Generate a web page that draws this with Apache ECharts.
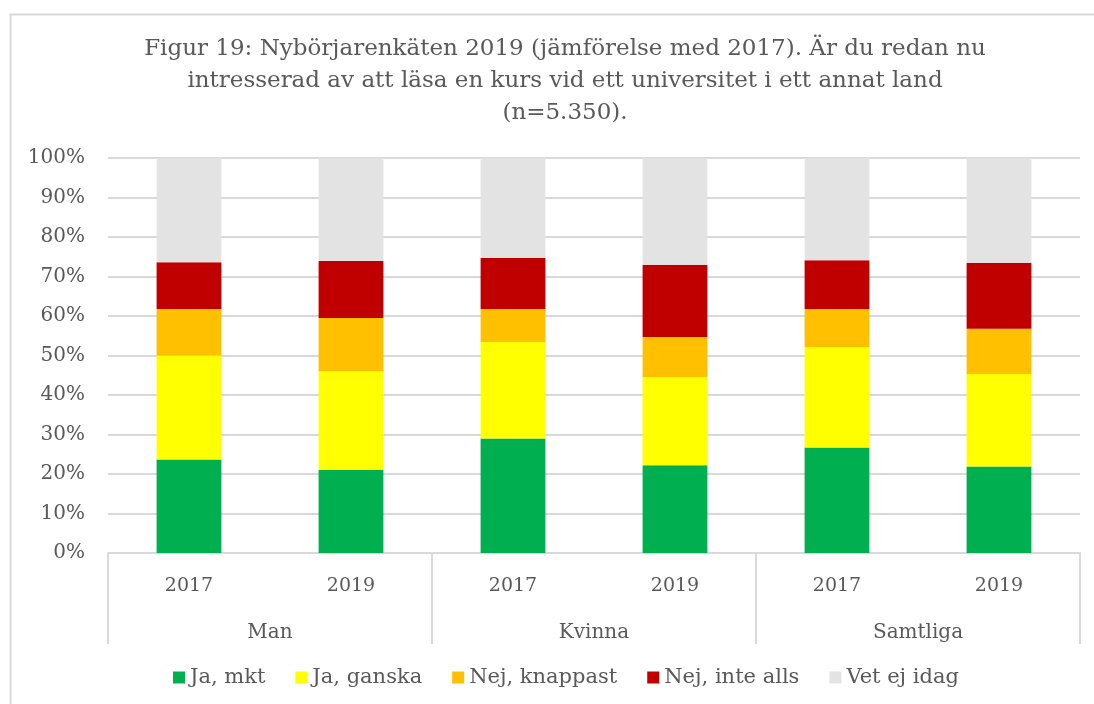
<!DOCTYPE html>
<html>
<head>
<meta charset="utf-8">
<script src="https://cdn.jsdelivr.net/npm/echarts@6/dist/echarts.min.js"></script>
<style>
  html, body { margin: 0; padding: 0; background: #fff; }
  #chart { width: 1094px; height: 704px; }
</style>
</head>
<body>
<div id="chart"></div>
<script>
  // kategorier (år inom grupp) och grupper
  const years = ['2017', '2019', '2017', '2019', '2017', '2019']
  const groups = ['Man', 'Kvinna', 'Samtliga']
  const yTicks = [0, 10, 20, 30, 40, 50, 60, 70, 80, 90, 100]

  // andelar i procent, läst ur figuren
  const jaMkt = [23.7, 21.1, 29.0, 22.2, 26.7, 21.9]
  const jaGanska = [26.3, 24.9, 24.4, 22.3, 25.4, 23.4]
  const nejKnappast = [11.8, 13.5, 8.4, 10.2, 9.7, 11.5]
  const nejInteAlls = [11.8, 14.4, 12.9, 18.3, 12.3, 16.7]
  const vetEj = [26.4, 26.1, 25.3, 27.0, 25.9, 26.5]

  const font = 'DejaVu Serif'
  const textColor = '#595959'
  const lineColor = '#d9d9d9'

  const seriesDefs = [
    {name: 'Ja, mkt', data: jaMkt, color: '#00b050'},
    {name: 'Ja, ganska', data: jaGanska, color: '#ffff00'},
    {name: 'Nej, knappast', data: nejKnappast, color: '#ffc000'},
    {name: 'Nej, inte alls', data: nejInteAlls, color: '#c00000'},
    {name: 'Vet ej idag', data: vetEj, color: '#e3e3e3'}
  ]

  const chart = echarts.init(document.getElementById('chart'))
  chart.setOption({
    backgroundColor: '#fff',
    animation: false,
    textStyle: {fontFamily: font, color: textColor},
    title: {
      text: 'Figur 19: Nybörjarenkäten 2019 (jämförelse med 2017). Är du redan nu\nintresserad av att läsa en kurs vid ett universitet i ett annat land\n(n=5.350).',
      left: 560,
      top: 28,
      textAlign: 'center',
      textStyle: {
        fontFamily: font,
        fontWeight: 'normal',
        fontSize: 23,
        lineHeight: 32,
        color: textColor
      }
    },
    graphic: [{
      type: 'rect',
      shape: {x: 10.5, y: 14.5, width: 1300, height: 800},
      style: {fill: 'none', stroke: lineColor, lineWidth: 2},
      silent: true
    }],
    legend: {
      bottom: 11,
      left: 168,
      itemWidth: 12,
      itemHeight: 12,
      itemGap: 30,
      icon: 'rect',
      textStyle: {fontFamily: font, fontSize: 21, color: textColor}
    },
    grid: {
      left: 108,
      right: 14,
      top: 158,
      bottom: 151,
      containLabel: false
    },
    xAxis: [
      {
        type: 'category',
        data: years,
        axisLine: {lineStyle: {color: lineColor, width: 2}},
        axisTick: {show: false},
        axisLabel: {fontFamily: font, fontSize: 19, color: textColor, margin: 24}
      },
      {
        type: 'category',
        data: groups,
        position: 'bottom',
        axisLine: {show: false},
        axisTick: {show: true, length: 91, interval: 0, lineStyle: {color: lineColor, width: 2}},
        axisLabel: {fontFamily: font, fontSize: 20, color: textColor, margin: 70},
        splitLine: {show: false}
      }
    ],
    yAxis: {
      type: 'value',
      min: yTicks[0],
      max: yTicks[yTicks.length - 1],
      interval: 10,
      axisLine: {show: false},
      axisTick: {show: false},
      axisLabel: {
        fontFamily: font,
        fontSize: 20,
        color: textColor,
        margin: 23,
        formatter: '{value}%'
      },
      splitLine: {lineStyle: {color: lineColor, width: 2}}
    },
    series: seriesDefs.map(s => ({
      name: s.name,
      type: 'bar',
      stack: 'total',
      barWidth: '40%',
      xAxisIndex: 0,
      data: s.data,
      itemStyle: {color: s.color}
    }))
  })
</script>
</body>
</html>
